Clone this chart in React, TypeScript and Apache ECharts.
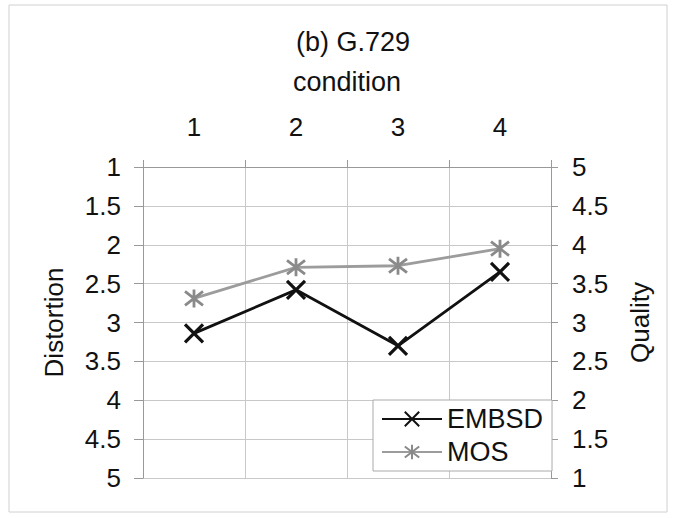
import React, { useEffect, useRef } from "react";
import * as echarts from "echarts";

// Test conditions along the top axis
const conditions = ["1", "2", "3", "4"];
// Objective distortion measure (left axis, inverted)
const embsd = [3.14, 2.58, 3.3, 2.35];
// Subjective quality scores (right axis)
const mos = [3.31, 3.71, 3.73, 3.95];

const FONT = "'Liberation Sans', Arial, Helvetica, sans-serif";
const TEXT = "#111";
const GRID = "#c8c8c8";
const AXIS = "#999";

const CROSS = "path://M0 0L10 10M10 0L0 10";
const STAR = "path://M0 0L10 10M10 0L0 10M5 -1.5L5 11.5";

export default function App() {
  const ref = useRef<HTMLDivElement>(null);

  useEffect(() => {
    if (!ref.current) return;
    const chart = echarts.init(ref.current, undefined, { renderer: "svg" });
    const label = { fontFamily: FONT, fontSize: 26, color: TEXT };

    chart.setOption({
      animation: false,
      backgroundColor: "#fff",
      title: {
        text: "(b) G.729",
        left: 348,
        top: 23,
        textAlign: "center",
        textStyle: { ...label, fontSize: 27, fontWeight: "normal" },
      },
      graphic: [
        {
          type: "rect",
          shape: { x: 9, y: 5, width: 658, height: 507 },
          style: { fill: "none", stroke: "#d0d0d0", lineWidth: 1 },
          silent: true,
        },
      ],
      grid: { left: 143, right: 122, top: 167, bottom: 40 },
      legend: {
        left: 373,
        top: 400,
        orient: "vertical",
        backgroundColor: "#fff",
        borderColor: "#aaa",
        borderWidth: 1,
        borderRadius: 0,
        padding: [4, 9, 4, 8],
        itemGap: 3,
        itemWidth: 60,
        itemHeight: 18,
        textStyle: { ...label, fontSize: 27, lineHeight: 30 },
        data: ["EMBSD", "MOS"],
      },
      xAxis: {
        type: "category",
        position: "top",
        data: conditions,
        boundaryGap: true,
        name: "condition",
        nameLocation: "middle",
        nameGap: 72,
        nameTextStyle: { ...label, fontSize: 27 },
        axisLine: { lineStyle: { color: AXIS, width: 1 } },
        axisTick: { show: true, alignWithLabel: false, length: 7, lineStyle: { color: AXIS } },
        axisLabel: { ...label, margin: 27 },
        splitLine: { show: true, lineStyle: { color: GRID, width: 1 } },
      },
      yAxis: [
        {
          type: "value",
          min: 1,
          max: 5,
          interval: 0.5,
          inverse: true,
          name: "Distortion",
          nameLocation: "middle",
          nameGap: 76,
          nameRotate: 90,
          nameTextStyle: label,
          axisLine: { show: true, lineStyle: { color: AXIS, width: 1 } },
          axisTick: { show: true, length: 9, lineStyle: { color: AXIS } },
          axisLabel: { ...label, margin: 22 },
          splitLine: { show: true, lineStyle: { color: GRID, width: 1 } },
        },
        {
          type: "value",
          position: "right",
          min: 1,
          max: 5,
          interval: 0.5,
          name: "Quality",
          nameLocation: "middle",
          nameGap: 76,
          nameRotate: 90,
          nameTextStyle: label,
          axisLine: { show: true, lineStyle: { color: AXIS, width: 1 } },
          axisTick: { show: true, length: 7, lineStyle: { color: AXIS } },
          axisLabel: { ...label, margin: 21 },
          splitLine: { show: false },
        },
      ],
      series: [
        {
          name: "EMBSD",
          type: "line",
          yAxisIndex: 0,
          data: embsd,
          symbol: CROSS,
          symbolSize: 18,
          lineStyle: { color: "#111", width: 2.8 },
          itemStyle: { color: "#111", borderColor: "#111", borderWidth: 3.2 },
          z: 3,
        },
        {
          name: "MOS",
          type: "line",
          yAxisIndex: 1,
          data: mos,
          symbol: STAR,
          symbolSize: 18,
          lineStyle: { color: "#9c9c9c", width: 2.8 },
          itemStyle: { color: "#8a8a8a", borderColor: "#8a8a8a", borderWidth: 2.8 },
          z: 2,
        },
      ],
    });

    return () => chart.dispose();
  }, []);

  return (
    <div
      ref={ref}
      style={{ position: "fixed", left: 0, top: 0, width: 673, height: 518 }}
    />
  );
}
